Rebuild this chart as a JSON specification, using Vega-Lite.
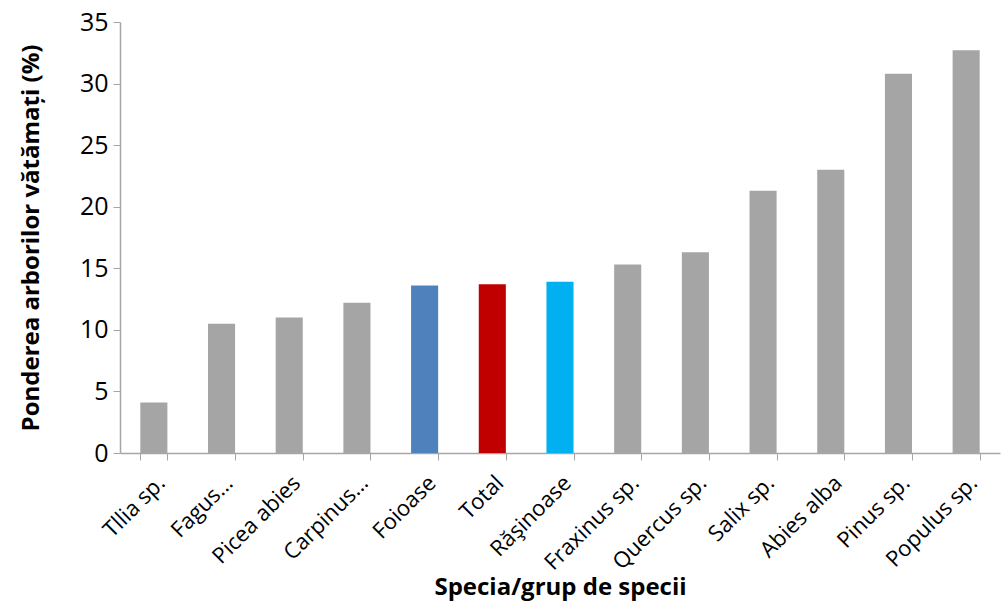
{
  "$schema": "https://vega.github.io/schema/vega-lite/v6.json",
  "width": 880,
  "height": 431,
  "autosize": "none",
  "padding": {"left": 120, "top": 22, "right": 7, "bottom": 150},
  "background": "white",
  "config": {"view": {"stroke": null}, "font": "Open Sans"},
  "data": {
    "values": [
      {"specia": "Tllia sp.", "grup": "specie", "valoare": 4.1},
      {"specia": "Fagus…", "grup": "specie", "valoare": 10.5},
      {"specia": "Picea abies", "grup": "specie", "valoare": 11.0},
      {"specia": "Carpinus…", "grup": "specie", "valoare": 12.2},
      {"specia": "Foioase", "grup": "Foioase", "valoare": 13.6},
      {"specia": "Total", "grup": "Total", "valoare": 13.7},
      {"specia": "Răşinoase", "grup": "Răşinoase", "valoare": 13.9},
      {"specia": "Fraxinus sp.", "grup": "specie", "valoare": 15.3},
      {"specia": "Quercus sp.", "grup": "specie", "valoare": 16.3},
      {"specia": "Salix sp.", "grup": "specie", "valoare": 21.3},
      {"specia": "Abies alba", "grup": "specie", "valoare": 23.0},
      {"specia": "Pinus sp.", "grup": "specie", "valoare": 30.8},
      {"specia": "Populus sp.", "grup": "specie", "valoare": 32.7}
    ]
  },
  "mark": {"type": "bar"},
  "encoding": {
    "x": {
      "field": "specia",
      "type": "nominal",
      "sort": null,
      "scale": {"paddingInner": 0.6, "paddingOuter": 0.3},
      "axis": {
        "title": "Specia/grup de specii",
        "titleFont": "Open Sans",
        "titleFontSize": 24,
        "titleFontWeight": "bold",
        "titleColor": "black",
        "titlePadding": 2,
        "labelAngle": -45,
        "labelFont": "Open Sans",
        "labelFontSize": 22,
        "labelColor": "black",
        "labelPadding": 12,
        "labelDx": -6,
        "tickBand": "extent",
        "tickSize": 7,
        "tickColor": "#A6A6A6",
        "domainColor": "#A6A6A6",
        "domainWidth": 1.5,
        "labelOverlap": false
      }
    },
    "y": {
      "field": "valoare",
      "type": "quantitative",
      "scale": {"domain": [0, 35], "nice": false},
      "axis": {
        "title": "Ponderea arborilor vătămați (%)",
        "titleFont": "Open Sans",
        "titleFontSize": 24,
        "titleFontWeight": "bold",
        "titleColor": "black",
        "titlePadding": 36,
        "values": [0, 5, 10, 15, 20, 25, 30, 35],
        "labelFont": "Open Sans",
        "labelFontSize": 25,
        "labelColor": "black",
        "labelPadding": 5,
        "tickSize": 7,
        "tickColor": "#A6A6A6",
        "domainColor": "#A6A6A6",
        "domainWidth": 1.5,
        "grid": false
      }
    },
    "color": {
      "field": "grup",
      "type": "nominal",
      "scale": {
        "domain": ["specie", "Foioase", "Total", "Răşinoase"],
        "range": ["#A5A5A5", "#4F81BD", "#C00000", "#00B0F0"]
      },
      "legend": null
    }
  }
}
